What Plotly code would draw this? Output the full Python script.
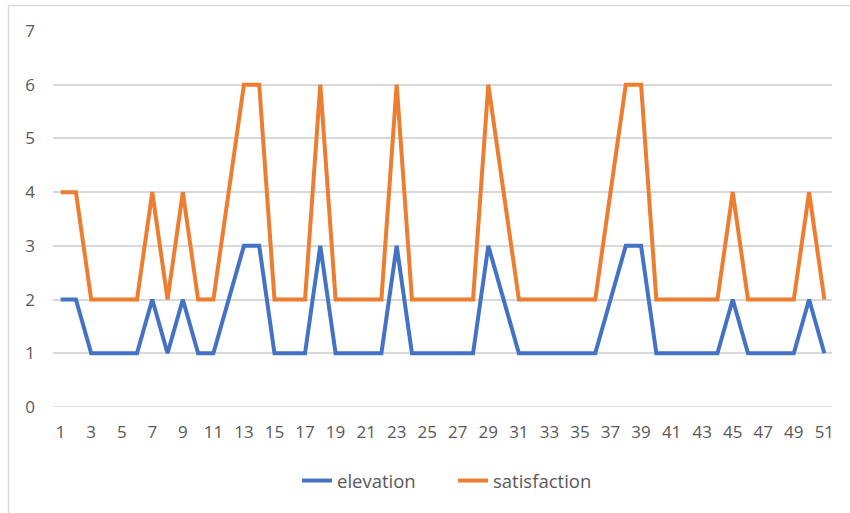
import plotly.graph_objects as go

x_values = list(range(1, 52))
elevation = [2, 2, 1, 1, 1, 1, 2, 1, 2, 1, 1, 2, 3, 3, 1, 1, 1, 3, 1, 1,
             1, 1, 3, 1, 1, 1, 1, 1, 3, 2, 1, 1, 1, 1, 1, 1, 2, 3, 3, 1,
             1, 1, 1, 1, 2, 1, 1, 1, 1, 2, 1]
satisfaction = [4, 4, 2, 2, 2, 2, 4, 2, 4, 2, 2, 4, 6, 6, 2, 2, 2, 6, 2, 2,
                2, 2, 6, 2, 2, 2, 2, 2, 6, 4, 2, 2, 2, 2, 2, 2, 4, 6, 6, 2,
                2, 2, 2, 2, 4, 2, 2, 2, 2, 4, 2]
x_tick_labels = [str(v) for v in range(1, 52, 2)]
y_ticks = list(range(0, 8))

W, H = 850, 513
L, R, T, B = 53, 18, 31, 106
pw, ph = W - L - R, H - T - B

def px_x(p):
    return (p - L) / pw

def px_y(p):
    return (H - B - p) / ph

fig = go.Figure()
fig.add_trace(go.Scatter(x=x_values, y=elevation, mode="lines", name="elevation",
                         line=dict(color="#4472C4", width=4, shape="linear")))
fig.add_trace(go.Scatter(x=x_values, y=satisfaction, mode="lines", name="satisfaction",
                         line=dict(color="#ED7D31", width=4, shape="linear")))

font_family = "Open Sans, DejaVu Sans, sans-serif"
fig.update_layout(
    width=W, height=H,
    margin=dict(l=L, r=R, t=T, b=B, autoexpand=False),
    paper_bgcolor="white", plot_bgcolor="white",
    font=dict(family=font_family, color="#595959", size=17),
    showlegend=True,
    legend=dict(orientation="h", x=px_x(297), xanchor="left", y=px_y(481), yanchor="middle",
                font=dict(size=18.5, color="#595959"), itemwidth=30, tracegroupgap=0,
                entrywidth=111, entrywidthmode="pixels",
                bgcolor="rgba(0,0,0,0)"),
    xaxis=dict(range=[0.5, 51.5], tickmode="array", tickvals=list(range(1, 52, 2)),
               ticktext=x_tick_labels, showgrid=False, zeroline=False, showline=False,
               ticks="", ticklabelstandoff=13, tickfont=dict(size=17, color="#595959"),
               fixedrange=True),
    yaxis=dict(range=[0, 7], tickmode="array", tickvals=y_ticks, showgrid=True,
               gridcolor="#D9D9D9", gridwidth=1.5, zeroline=False, showline=False,
               ticks="", ticklabelstandoff=17, tickfont=dict(size=17, color="#595959"),
               fixedrange=True),
    shapes=[
        dict(type="line", xref="paper", yref="paper", x0=px_x(8.5), x1=px_x(8.5),
             y0=px_y(H + 2), y1=px_y(5.5), line=dict(color="#D9D9D9", width=1.5)),
        dict(type="line", xref="paper", yref="paper", x0=px_x(8.5), x1=px_x(W + 2),
             y0=px_y(5.5), y1=px_y(5.5), line=dict(color="#D9D9D9", width=1.5)),
        dict(type="line", xref="paper", yref="y", x0=0, x1=1, y0=0, y1=0,
             line=dict(color="#D9D9D9", width=1.5), layer="below"),
    ],
)

fig.write_html("out.html", config={"displayModeBar": False},
               post_script="document.body.style.margin='0';document.body.style.padding='0';")
